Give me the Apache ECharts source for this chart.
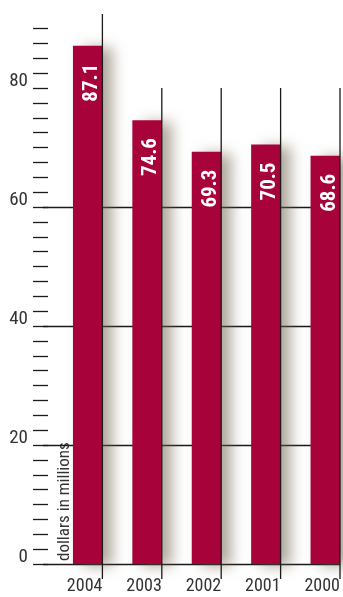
<!DOCTYPE html>
<html>
<head>
<meta charset="utf-8">
<script src="https://cdn.jsdelivr.net/npm/echarts@6/dist/echarts.min.js"></script>
<style>
html,body{margin:0;padding:0;background:#fff;}
#c{width:343px;height:597px;}
</style>
</head>
<body>
<div id="c"></div>
<script>
const years = ['2004', '2003', '2002', '2001', '2000'];
const values = [87.1, 74.6, 69.3, 70.5, 68.6];
const gridValues = [0, 20, 40, 60];
const axisName = 'dollars in millions';

const FONT = '"Roboto Condensed", "DejaVu Sans Condensed", sans-serif';
const chart = echarts.init(document.getElementById('c'), null, {renderer: 'canvas'});

chart.setOption({
  backgroundColor: '#ffffff',
  animation: false,
  grid: {left: 43, right: 2.5, top: 28.5, bottom: 33},
  xAxis: [
    {
      type: 'category', data: years, boundaryGap: true,
      axisLine: {show: false}, axisTick: {show: false}, axisLabel: {show: false}, splitLine: {show: false}
    },
    {
      type: 'category', data: [''].concat(years), boundaryGap: false, position: 'bottom',
      axisLine: {show: false}, axisTick: {show: false}, splitLine: {show: false},
      axisLabel: {interval: 0, align: 'right', margin: 13, fontFamily: FONT, fontSize: 18, color: '#333'}
    }
  ],
  yAxis: {
    type: 'value', min: 0, max: 90, interval: 20, offset: -5,
    axisLine: {show: false},
    axisTick: {show: true, length: 15, lineStyle: {color: '#1a1a1a', width: 1.3}},
    minorTick: {show: true, splitNumber: 8, length: 15, lineStyle: {color: '#1a1a1a', width: 1.3}},
    splitLine: {show: false},
    axisLabel: {showMaxLabel: false, margin: 20, fontFamily: FONT, fontSize: 19, color: '#333',
      verticalAlign: 'bottom', lineHeight: 13}
  },
  graphic: [{
    type: 'text', rotation: Math.PI / 2, x: 73, y: 561, silent: true,
    style: {text: axisName, fontFamily: FONT, fontSize: 17, fill: '#333',
      align: 'left', verticalAlign: 'bottom', textAlign: 'left', textVerticalAlign: 'bottom'}
  }],
  series: [
    {
      type: 'bar', xAxisIndex: 0, barWidth: 30, barGap: '0%',
      data: years.map(() => '-'), itemStyle: {color: 'transparent'}, silent: true
    },
    {
      type: 'bar', xAxisIndex: 0, barWidth: 29.5, barGap: '0%', z: 2,
      data: values,
      itemStyle: {color: '#a8023a', shadowBlur: 14, shadowColor: 'rgba(110,95,75,0.55)', shadowOffsetX: 10, shadowOffsetY: 2},
      label: {
        show: true, position: ['64%', 18], rotate: 90, align: 'right', verticalAlign: 'middle',
        color: '#fff', fontFamily: FONT, fontWeight: 'bold', fontSize: 21,
        formatter: p => p.value.toFixed(1)
      },
      markLine: {
        z: 1, silent: true, symbol: 'none', animation: false,
        label: {show: false},
        lineStyle: {color: '#1a1a1a', width: 1.3, type: 'solid'},
        data: gridValues.map(v => ({yAxis: v}))
      }
    },
    {
      type: 'custom', xAxisIndex: 1, z: 4, silent: true, clip: false,
      data: years.map((y, i) => [i + 1]),
      encode: {x: 0},
      renderItem: function (params, api) {
        const xi = api.value(0);
        const base = api.coord([xi, 0]);
        const topY = xi === 1 ? params.coordSys.y - 14.5 : api.coord([xi, 80])[1];
        return {
          type: 'line',
          shape: {x1: base[0], y1: topY, x2: base[0], y2: base[1] + 15},
          style: {stroke: '#1a1a1a', lineWidth: 1.3}
        };
      }
    }
  ]
});
</script>
</body>
</html>
